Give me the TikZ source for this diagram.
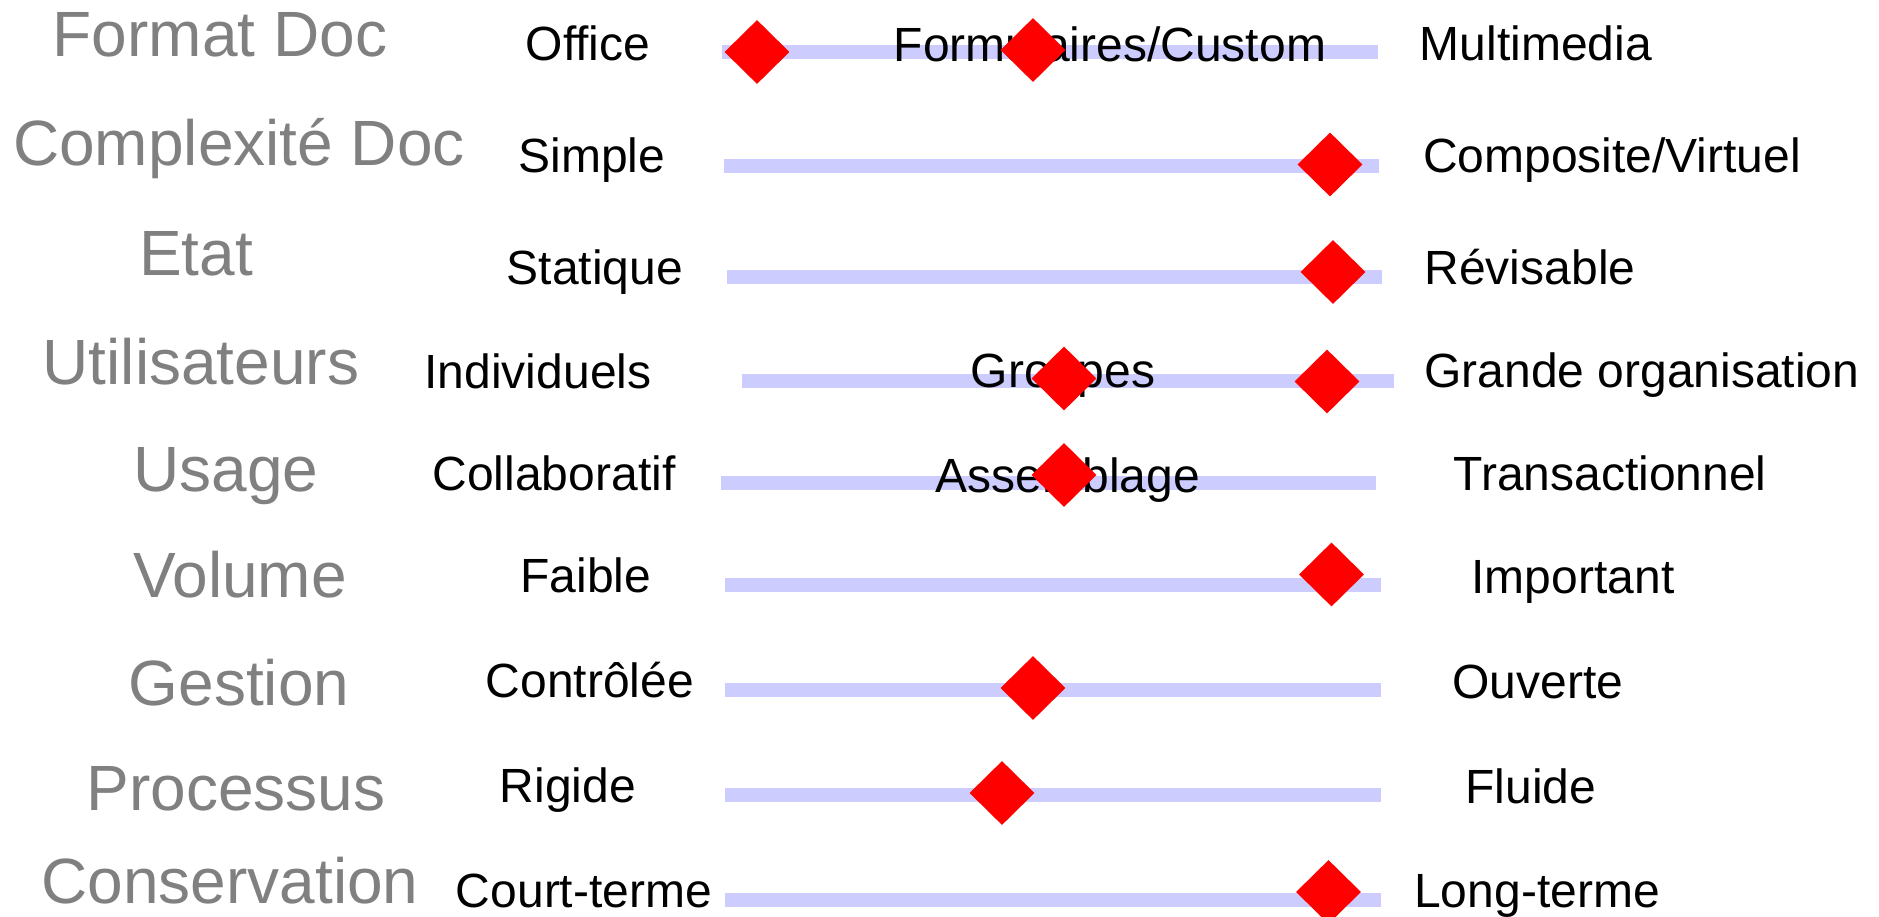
\documentclass[tikz,border=0pt]{standalone}
\usepackage{fontspec}
\setmainfont{Liberation Sans}
\usetikzlibrary{shapes.geometric}
\definecolor{barcol}{RGB}{204,204,255}
\definecolor{catgray}{RGB}{128,128,128}
\begin{document}
\begin{tikzpicture}[x=1pt,y=-1pt,
  cat/.style={anchor=base,inner sep=0pt,text=catgray,font=\fontsize{64}{70}\selectfont},
  lbl/.style={anchor=base,inner sep=0pt,text=black,font=\fontsize{48}{52}\selectfont},
  bar/.style={line width=14pt,draw=barcol,line cap=butt},
  marker/.style={diamond,fill=red,draw=none,inner sep=0pt,minimum width=65pt,minimum height=64pt}]
\useasboundingbox (0,0) rectangle (1879,917);
% bar ends
\coordinate (b1l) at (722,52.5);  \coordinate (b1r) at (1378,52.5);
\coordinate (b2l) at (724,166);   \coordinate (b2r) at (1379,166);
\coordinate (b3l) at (727,277);   \coordinate (b3r) at (1382,277);
\coordinate (b4l) at (742,381);   \coordinate (b4r) at (1394,381);
\coordinate (b5l) at (721,483);   \coordinate (b5r) at (1376,483);
\coordinate (b6l) at (725,585);   \coordinate (b6r) at (1381,585);
\coordinate (b7l) at (725,690);   \coordinate (b7r) at (1381,690);
\coordinate (b8l) at (725,795);   \coordinate (b8r) at (1381,795);
\coordinate (b9l) at (725,900);   \coordinate (b9r) at (1381,900);
% bars
\draw[bar] (b1l) -- (b1r);
\draw[bar] (b2l) -- (b2r);
\draw[bar] (b3l) -- (b3r);
\draw[bar] (b4l) -- (b4r);
\draw[bar] (b5l) -- (b5r);
\draw[bar] (b6l) -- (b6r);
\draw[bar] (b7l) -- (b7r);
\draw[bar] (b8l) -- (b8r);
\draw[bar] (b9l) -- (b9r);
% category labels
\node[cat] (c1) at (220,56.7) {Format Doc};
\node[cat] (c2) at (239,166) {Complexité Doc};
\node[cat] (c3) at (196,276) {Etat};
\node[cat] (c4) at (201,384) {Utilisateurs};
\node[cat] (c5) at (226,491.7) {Usage};
\node[cat] (c6) at (240,597.7) {Volume};
\node[cat] (c7) at (239,705) {Gestion};
\node[cat] (c8) at (236,810) {Processus};
\node[cat] (c9) at (230,903) {Conservation};
% left labels
\node[lbl] (l1) at (588,61) {Office};
\node[lbl] (l2) at (592,173) {Simple};
\node[lbl] (l3) at (595,284) {Statique};
\node[lbl] (l4) at (538,388) {Individuels};
\node[lbl] (l5) at (554,490) {Collaboratif};
\node[lbl] (l6) at (586,592) {Faible};
\node[lbl] (l7) at (590,697) {Contrôlée};
\node[lbl] (l8) at (568,802) {Rigide};
\node[lbl] (l9) at (584,907) {Court-terme};
% middle labels
\node[lbl] (m1) at (1110,62) {Formulaires/Custom};
\node[lbl] (m4) at (1063,387) {Groupes};
\node[lbl] (m5) at (1068,492) {Assemblage};
% right labels
\node[lbl] (r1) at (1536,61) {Multimedia};
\node[lbl] (r2) at (1612,173) {Composite/Virtuel};
\node[lbl] (r3) at (1530,284) {Révisable};
\node[lbl] (r4) at (1642,387) {Grande organisation};
\node[lbl] (r5) at (1610,490) {Transactionnel};
\node[lbl] (r6) at (1573,593) {Important};
\node[lbl] (r7) at (1538,698) {Ouverte};
\node[lbl] (r8) at (1531,803) {Fluide};
\node[lbl] (r9) at (1537,907) {Long-terme};
% markers
\node[marker] (d1a) at (757,52) {};
\node[marker] (d1b) at (1033,50) {};
\node[marker] (d2) at (1330,164.5) {};
\node[marker] (d3) at (1333,272) {};
\node[marker] (d4a) at (1064,378.5) {};
\node[marker] (d4b) at (1327,381.5) {};
\node[marker] (d5) at (1064,475) {};
\node[marker] (d6) at (1331.5,574.5) {};
\node[marker] (d7) at (1033,688) {};
\node[marker] (d8) at (1002,793) {};
\node[marker] (d9) at (1328.5,892) {};
\end{tikzpicture}
\end{document}
